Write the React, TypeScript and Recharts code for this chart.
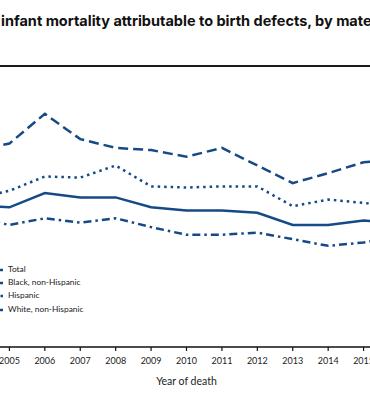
import { Line, LineChart, XAxis, YAxis } from "recharts";

// years shown in the crop (2004 and 2016 sit just outside the frame)
const years = ["2004", "2005", "2006", "2007", "2008", "2009", "2010", "2011", "2012", "2013", "2014", "2015", "2016"];

// deaths per 10,000 live births
const total = [12.9, 12.7, 14.0, 13.6, 13.6, 12.7, 12.4, 12.4, 12.2, 11.1, 11.1, 11.5, 11.2];
const black = [17.8, 18.5, 21.2, 18.9, 18.1, 17.9, 17.3, 18.1, 16.5, 14.9, 15.8, 16.8, 17.0];
const hispanic = [13.5, 14.2, 15.5, 15.4, 16.5, 14.6, 14.5, 14.6, 14.6, 12.8, 13.4, 13.1, 12.8];
const white = [11.7, 11.1, 11.7, 11.3, 11.7, 10.9, 10.2, 10.2, 10.4, 9.8, 9.2, 9.5, 10.1];

const NAVY = "#164a86";

const series = [
  { key: "total", name: "Total", dash: undefined as string | undefined },
  { key: "black", name: "Black, non-Hispanic", dash: "10 5" },
  { key: "hispanic", name: "Hispanic", dash: "2.5 4" },
  { key: "white", name: "White, non-Hispanic", dash: "8 4 2.5 4" }
];

const data = years.map((year, i) => ({
  year,
  total: total[i],
  black: black[i],
  hispanic: hispanic[i],
  white: white[i]
}));

function ChartLegend() {
  return (
    <div style={{ position: "absolute", left: 0, top: 262.5 }}>
      {series.map((s) => (
        <div key={s.key} style={{ position: "relative", height: 13.4, lineHeight: "13.4px" }}>
          <svg width={20} height={6} style={{ position: "absolute", left: -17, top: 4 }}>
            <line x1={20} y1={3} x2={0} y2={3} stroke={NAVY} strokeWidth={2.5} strokeDasharray={s.dash} />
          </svg>
          <span style={{ position: "absolute", left: 8, top: 0, fontFamily: "Lato", fontSize: 8.4, color: "#222", whiteSpace: "nowrap" }}>
            {s.name}
          </span>
        </div>
      ))}
    </div>
  );
}

export default function App() {
  return (
    <div style={{ position: "fixed", left: 0, top: 0, width: 370, height: 395, overflow: "hidden", background: "#fff" }}>
      <div
        style={{
          position: "absolute",
          left: 1,
          top: 13,
          whiteSpace: "nowrap",
          fontFamily: "Inter",
          fontWeight: 700,
          fontSize: 14.5,
          lineHeight: "16px",
          color: "#111"
        }}
      >
        <span style={{ position: "absolute", right: "100%", top: 0 }}>Rate of&nbsp;</span>
        infant mortality attributable to birth defects, by maternal race and Hispanic origin
      </div>
      <div style={{ position: "absolute", left: 0, top: 65, width: 370, height: 2, background: "#1a1a1a" }} />
      <div style={{ position: "absolute", left: -26.4, top: 0 }}>
        <LineChart width={425} height={395} data={data} margin={{ top: 72, right: 0, left: 0, bottom: 0 }}>
          <YAxis hide domain={[0, 25]} />
          <XAxis
            dataKey="year"
            height={48}
            interval={0}
            tickSize={4}
            tickMargin={7}
            axisLine={{ stroke: "#111", strokeWidth: 1.5 }}
            tickLine={{ stroke: "#111", strokeWidth: 1.2 }}
            tick={{ fill: "#222", fontSize: 9, fontFamily: "Lato" }}
            label={{ value: "Year of death", position: "insideBottom", offset: 10, fill: "#222", fontSize: 10.5, fontFamily: "Lato" }}
          />
          {series.map((s) => (
            <Line
              key={s.key}
              dataKey={s.key}
              name={s.name}
              type="linear"
              stroke={NAVY}
              strokeWidth={2.5}
              strokeDasharray={s.dash}
              dot={false}
              activeDot={false}
              isAnimationActive={false}
            />
          ))}
        </LineChart>
      </div>
      <ChartLegend />
    </div>
  );
}
